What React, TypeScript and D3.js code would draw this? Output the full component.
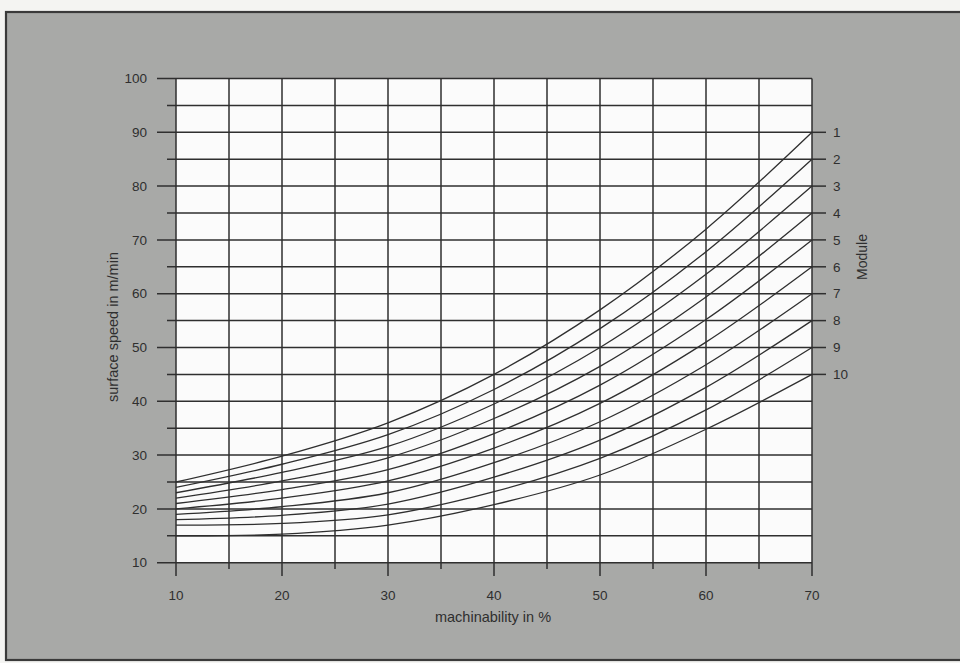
import React from "react";
import * as d3 from "d3";

const machinability = [10, 20, 30, 40, 50, 60, 70];
const module1 = [25, 29.8, 36, 45, 57, 72, 90];
const module2 = [24, 28.3, 33.8, 42.2, 53.5, 67.8, 85];
const module3 = [23, 26.8, 31.6, 39.5, 50, 63.6, 80];
const module4 = [22, 25.2, 29.5, 36.8, 46.5, 59.4, 75];
const module5 = [21, 23.6, 27.3, 34, 43, 55.2, 70];
const module6 = [20, 22, 25.2, 31.3, 39.6, 51, 65];
const module7 = [19, 20.4, 23, 28.6, 36.2, 46.8, 60];
const module8 = [18, 18.8, 20.9, 25.9, 32.8, 42.6, 55];
const module9 = [17, 17.3, 18.9, 23.2, 29.4, 38.4, 50];
const module10 = [15, 15.3, 17, 20.8, 26.3, 34.8, 45];
const moduleSeries = [module1, module2, module3, module4, module5, module6, module7, module8, module9, module10];
const moduleLabels = ["1", "2", "3", "4", "5", "6", "7", "8", "9", "10"];

const xGrid = [10, 15, 20, 25, 30, 35, 40, 45, 50, 55, 60, 65, 70];
const xTickLabels = [10, 20, 30, 40, 50, 60, 70];
const yGrid = [10, 15, 20, 25, 30, 35, 40, 45, 50, 55, 60, 65, 70, 75, 80, 85, 90, 95, 100];
const yTickLabels = [10, 20, 30, 40, 50, 60, 70, 80, 90, 100];

const xTitle = "machinability in %";
const yTitle = "surface speed in m/min";
const rightTitle = "Module";

export default function App() {
  const W = 960;
  const H = 663;
  const x = d3.scaleLinear().domain([10, 70]).range([176, 812]);
  const y = d3.scaleLinear().domain([10, 100]).range([562.7, 78.5]);
  const line = d3
    .line<[number, number]>()
    .x((d) => x(d[0]))
    .y((d) => y(d[1]))
    .curve(d3.curveCatmullRom.alpha(0.5));

  const ink = "#2f2f2f";
  const font = "'Liberation Sans', Arial, sans-serif";
  const left = x(10);
  const right = x(70);
  const top = y(100);
  const bottom = y(10);

  return (
    <svg
      width={W}
      height={H}
      viewBox={`0 0 ${W} ${H}`}
      style={{ position: "absolute", left: 0, top: 0, display: "block" }}
    >
      <rect x={0} y={0} width={W} height={H} fill="#f4f4f2" />
      <rect x={6} y={12} width={W} height={648} fill="#a8a9a7" stroke="#3a3a3a" strokeWidth={2.2} />
      <rect x={left} y={top} width={right - left} height={bottom - top} fill="#fbfbfb" />

      {yGrid.map((v) => {
        const major = v % 10 === 0;
        return (
          <line
            key={"h" + v}
            x1={major ? 157 : 167}
            x2={right}
            y1={y(v)}
            y2={y(v)}
            stroke={ink}
            strokeWidth={1.5}
          />
        );
      })}
      {xGrid.map((v) => {
        const major = v % 10 === 0;
        return (
          <line
            key={"v" + v}
            x1={x(v)}
            x2={x(v)}
            y1={top}
            y2={major ? 576 : 569}
            stroke={ink}
            strokeWidth={1.5}
          />
        );
      })}
      {moduleSeries.map((s, i) => (
        <line
          key={"r" + i}
          x1={right}
          x2={826}
          y1={y(s[s.length - 1])}
          y2={y(s[s.length - 1])}
          stroke={ink}
          strokeWidth={1.5}
        />
      ))}

      {moduleSeries.map((s, i) => (
        <path
          key={"c" + i}
          d={line(machinability.map((m, j) => [m, s[j]] as [number, number])) || ""}
          fill="none"
          stroke={ink}
          strokeWidth={1.3}
        />
      ))}

      {yTickLabels.map((v) => (
        <text
          key={"yl" + v}
          x={147}
          y={y(v)}
          dy="0.35em"
          textAnchor="end"
          fontFamily={font}
          fontSize={13.5}
          fill={ink}
        >
          {v}
        </text>
      ))}
      {xTickLabels.map((v) => (
        <text
          key={"xl" + v}
          x={x(v)}
          y={600}
          textAnchor="middle"
          fontFamily={font}
          fontSize={13.5}
          fill={ink}
        >
          {v}
        </text>
      ))}
      {moduleSeries.map((s, i) => (
        <text
          key={"ml" + i}
          x={833}
          y={y(s[s.length - 1])}
          dy="0.35em"
          textAnchor="start"
          fontFamily={font}
          fontSize={13.5}
          fill={ink}
        >
          {moduleLabels[i]}
        </text>
      ))}

      <text x={493} y={622} textAnchor="middle" fontFamily={font} fontSize={14.5} fill={ink}>
        {xTitle}
      </text>
      <text
        transform={`translate(118, 327) rotate(-90)`}
        textAnchor="middle"
        fontFamily={font}
        fontSize={14.5}
        fill={ink}
      >
        {yTitle}
      </text>
      <text
        transform={`translate(867, 257) rotate(-90)`}
        textAnchor="middle"
        fontFamily={font}
        fontSize={14}
        fill={ink}
      >
        {rightTitle}
      </text>
    </svg>
  );
}
